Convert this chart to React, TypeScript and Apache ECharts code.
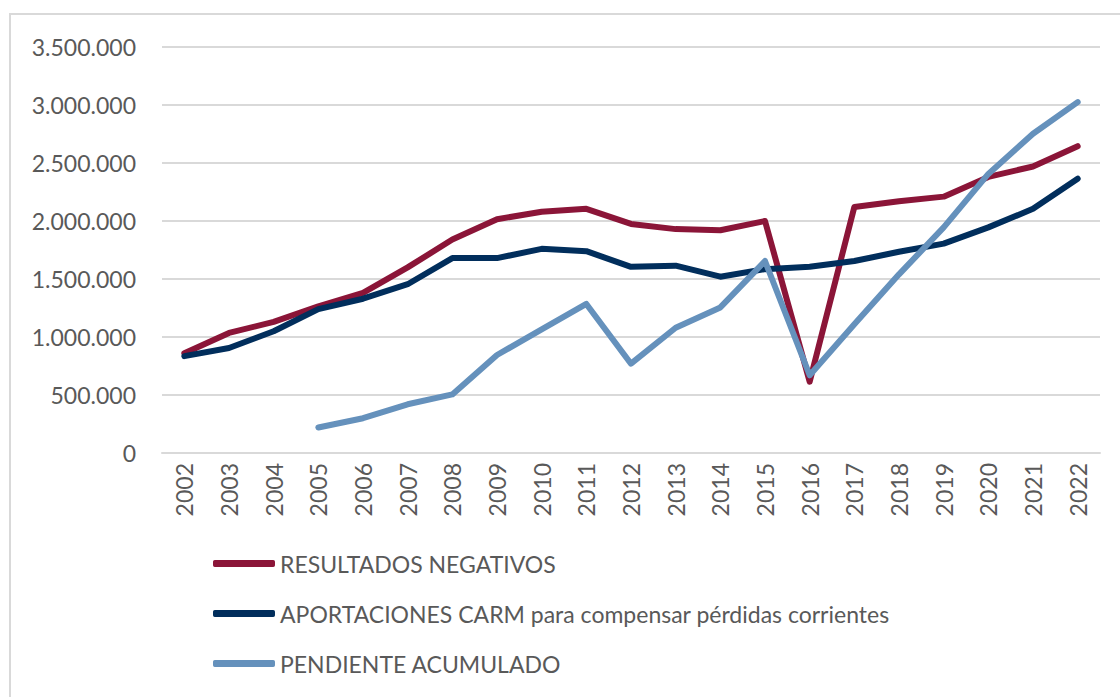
import React, { useEffect, useRef } from "react";
import * as echarts from "echarts";

const years = ["2002","2003","2004","2005","2006","2007","2008","2009","2010","2011","2012","2013","2014","2015","2016","2017","2018","2019","2020","2021","2022"];
const resultadosNegativos = [860000,1035000,1130000,1265000,1380000,1600000,1840000,2015000,2080000,2105000,1975000,1930000,1920000,2000000,615000,2120000,2170000,2210000,2380000,2470000,2645000];
const aportacionesCarm = [835000,905000,1050000,1240000,1330000,1455000,1680000,1680000,1760000,1740000,1605000,1615000,1520000,1585000,1605000,1655000,1735000,1805000,1945000,2105000,2365000];
const pendienteAcumulado = [null,null,null,220000,300000,420000,505000,845000,1065000,1285000,770000,1080000,1255000,1655000,670000,1110000,1540000,1945000,2406000,2752000,3025000];
const seriesNames = ["RESULTADOS NEGATIVOS","APORTACIONES CARM para compensar pérdidas corrientes","PENDIENTE ACUMULADO"];
const seriesColors = ["#8B1538","#012E5C","#6591BC"];

const fmt = (v: number) => String(v).replace(/\B(?=(\d{3})+(?!\d))/g, ".");

export default function App() {
  const ref = useRef<HTMLDivElement>(null);
  useEffect(() => {
    if (!ref.current) return;
    const chart = echarts.init(ref.current, null, { renderer: "svg" });
    const font = "Lato, 'Liberation Sans', Arial, sans-serif";
    const data = [resultadosNegativos, aportacionesCarm, pendienteAcumulado];
    chart.setOption({
      animation: false,
      backgroundColor: "#ffffff",
      graphic: [
        { type: "rect", shape: { x: 10, y: 14, width: 1120, height: 700 }, style: { fill: "none", stroke: "#d9d9d9", lineWidth: 2 }, silent: true },
      ],
      grid: { left: 162, right: 20, top: 47, bottom: 244 },
      xAxis: {
        type: "category",
        data: years,
        boundaryGap: true,
        axisLine: { show: true, lineStyle: { color: "#d9d9d9", width: 2 } },
        axisTick: { show: false },
        axisLabel: { rotate: 90, margin: 10, color: "#595959", fontSize: 23, fontFamily: font },
      },
      yAxis: {
        type: "value",
        min: 0,
        max: 3500000,
        interval: 500000,
        axisLine: { show: false },
        axisTick: { show: false },
        splitLine: { lineStyle: { color: "#d9d9d9", width: 2 } },
        axisLabel: { margin: 26, color: "#595959", fontSize: 23, fontFamily: font, formatter: (v: number) => fmt(v) },
      },
      legend: {
        orient: "vertical",
        left: 208,
        top: 545,
        itemWidth: 62,
        itemHeight: 7,
        itemGap: 23,
        icon: "roundRect",
        textStyle: { color: "#595959", fontSize: 23, fontFamily: font, lineHeight: 27 },
        data: seriesNames,
      },
      series: seriesNames.map((name, i) => ({
        name,
        type: "line",
        data: data[i],
        symbol: "none",
        showSymbol: false,
        color: seriesColors[i],
        lineStyle: { color: seriesColors[i], width: 6, cap: "round", join: "round" },
        itemStyle: { color: seriesColors[i] },
      })),
    });
    return () => chart.dispose();
  }, []);
  return <div ref={ref} style={{ position: "fixed", left: 0, top: 0, width: 1120, height: 697 }} />;
}
